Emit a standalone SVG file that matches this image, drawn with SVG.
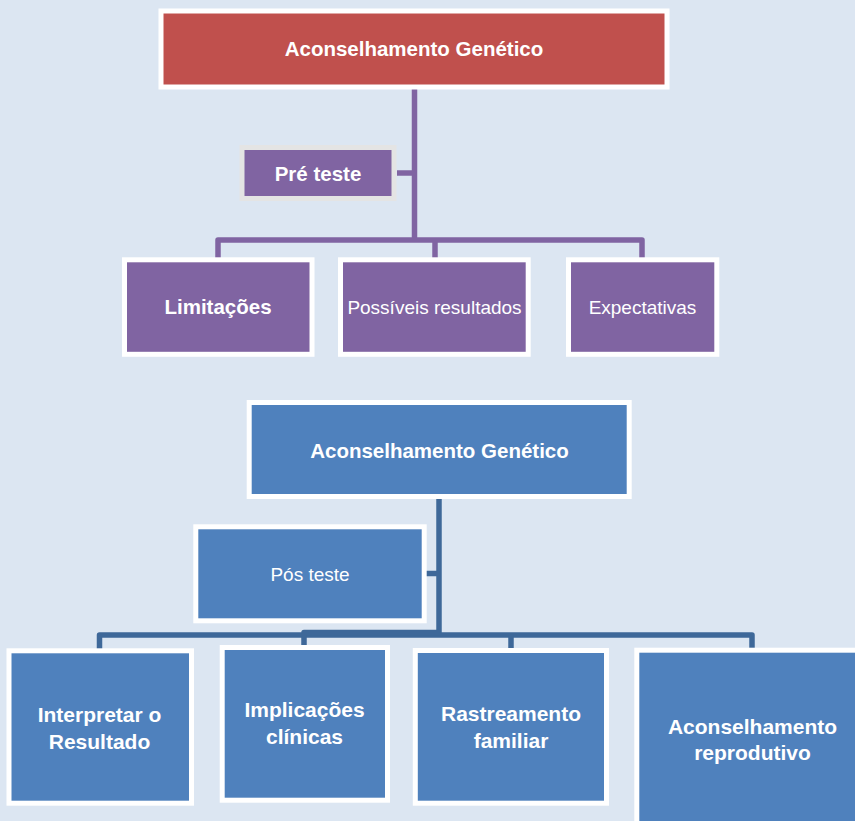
<svg xmlns="http://www.w3.org/2000/svg" width="855" height="821" viewBox="0 0 855 821">
<style>
.bg{fill:#DCE6F2}
.box{stroke:#FFFFFF;stroke-width:5}
.red{fill:#C0504D}
.pur{fill:#8064A2}
.blu{fill:#4F81BD}
.gray{stroke:#E4E4E4}
.cp{fill:none;stroke:#8064A2;stroke-width:5.5;stroke-linejoin:round}
.cb{fill:none;stroke:#3E6899;stroke-width:5.5;stroke-linejoin:round}
text{font-family:"Liberation Sans",Arial,sans-serif;fill:#FFFFFF;text-anchor:middle}
.b{font-weight:bold;font-size:20.5px}
.b2{font-weight:bold;font-size:21px}
.r{font-size:19px}
</style>
<rect class="bg" x="0" y="0" width="855" height="821"/>
<g id="connectors">
<path class="cp" d="M414.5 89 V240"/>
<path class="cp" d="M397 173 H414.5"/>
<path class="cp" d="M218 258 V240 H642 V258"/>
<path class="cp" d="M435 240 V258"/>
<path class="cb" d="M439 499 V635"/>
<path class="cb" d="M426 573.5 H439"/>
<path class="cb" d="M99.5 649 V635 H752 V649"/>
<path class="cb" d="M511 635 V649"/>
<path class="cb" d="M439 632.5 H304 V646"/>
</g>
<g id="n-top1">
<rect class="box red" x="161" y="11" width="506" height="76"/>
<text class="b" x="414" y="55.5">Aconselhamento Genético</text>
</g>
<g id="n-pre">
<rect class="box pur gray" x="242" y="147.5" width="152" height="51"/>
<text class="b" x="318" y="180.5">Pré teste</text>
</g>
<g id="n-lim">
<rect class="box pur" x="124.5" y="259.8" width="187.5" height="94.5"/>
<text class="b" x="218" y="313.5">Limitações</text>
</g>
<g id="n-pos-res">
<rect class="box pur" x="340.5" y="259.8" width="187.7" height="94.5"/>
<text class="r" x="434.5" y="313.5">Possíveis resultados</text>
</g>
<g id="n-exp">
<rect class="box pur" x="568.5" y="259.8" width="148.3" height="94.5"/>
<text class="r" x="642.5" y="313.5">Expectativas</text>
</g>
<g id="n-top2">
<rect class="box blu" x="249.2" y="402.5" width="380" height="94"/>
<text class="b" x="439.5" y="458">Aconselhamento Genético</text>
</g>
<g id="n-pos">
<rect class="box blu" x="195.8" y="526.8" width="228.4" height="94"/>
<text class="r" x="310" y="580.5">Pós teste</text>
</g>
<g id="n-interp">
<rect class="box blu" x="9" y="650.8" width="182.5" height="152.4"/>
<text class="b2" x="99.5" y="721.5">Interpretar o</text>
<text class="b2" x="99.5" y="748.5">Resultado</text>
</g>
<g id="n-impl">
<rect class="box blu" x="222.2" y="647.5" width="165.3" height="152.7"/>
<text class="b2" x="304.5" y="716.5">Implicações</text>
<text class="b2" x="304.5" y="743.5">clínicas</text>
</g>
<g id="n-rast">
<rect class="box blu" x="415.3" y="650.5" width="191.2" height="152.7"/>
<text class="b2" x="511" y="720.5">Rastreamento</text>
<text class="b2" x="511" y="747.5">familiar</text>
</g>
<g id="n-repro">
<rect class="box blu" x="636.8" y="650.2" width="240" height="200"/>
<text class="b2" x="752.5" y="733.5">Aconselhamento</text>
<text class="b2" x="752.5" y="760">reprodutivo</text>
</g>
</svg>
